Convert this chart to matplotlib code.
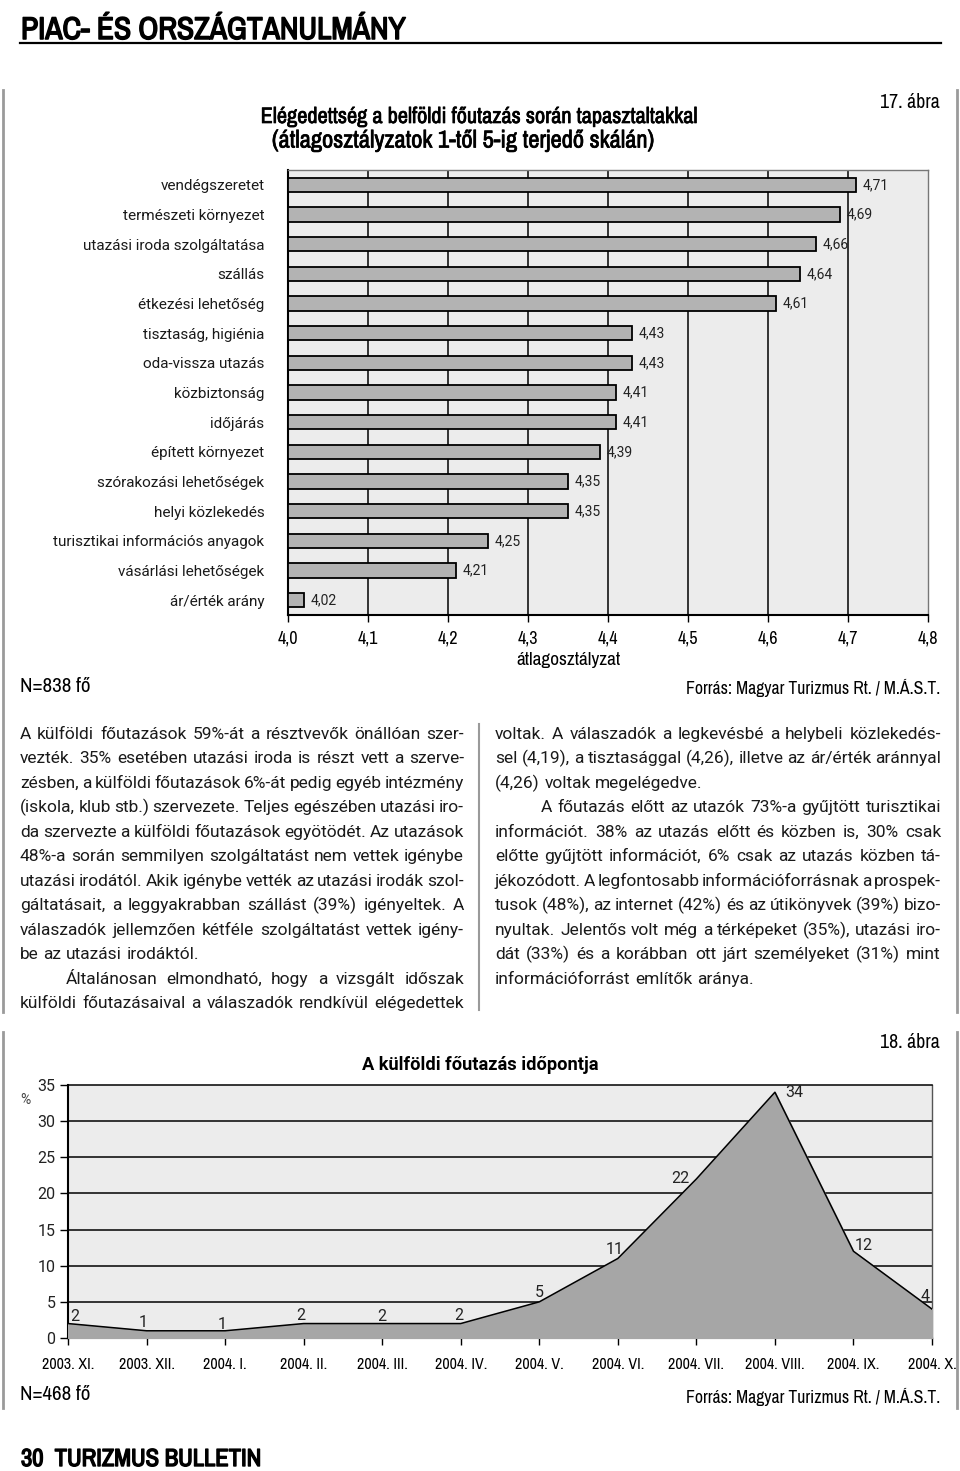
import matplotlib
matplotlib.use('Agg')
import matplotlib.pyplot as plt
import matplotlib.patheffects as pe
from matplotlib import font_manager

# --- data -------------------------------------------------------------
categories = ['vendégszeretet', 'természeti környezet', 'utazási iroda szolgáltatása',
              'szállás', 'étkezési lehetőség', 'tisztaság, higiénia', 'oda-vissza utazás',
              'közbiztonság', 'időjárás', 'épített környezet', 'szórakozási lehetőségek',
              'helyi közlekedés', 'turisztikai információs anyagok', 'vásárlási lehetőségek',
              'ár/érték arány']
scores = [4.71, 4.69, 4.66, 4.64, 4.61, 4.43, 4.43, 4.41, 4.41, 4.39, 4.35, 4.35, 4.25, 4.21, 4.02]
score_ticks = [4.0, 4.1, 4.2, 4.3, 4.4, 4.5, 4.6, 4.7, 4.8]

months = ['2003. XI.', '2003. XII.', '2004. I.', '2004. II.', '2004. III.', '2004. IV.',
          '2004. V.', '2004. VI.', '2004. VII.', '2004. VIII.', '2004. IX.', '2004. X.']
share = [2, 1, 1, 2, 2, 2, 5, 11, 22, 34, 12, 4]
share_ticks = [0, 5, 10, 15, 20, 25, 30, 35]

left_col = [
    ('A külföldi főutazások 59%-át a résztvevők önállóan szer-', 0, True),
    ('vezték. 35% esetében utazási iroda is részt vett a szerve-', 0, True),
    ('zésben, a külföldi főutazások 6%-át pedig egyéb intézmény', 0, True),
    ('(iskola, klub stb.) szervezete. Teljes egészében utazási iro-', 0, True),
    ('da szervezte a külföldi főutazások egyötödét. Az utazások', 0, True),
    ('48%-a során semmilyen szolgáltatást nem vettek igénybe', 0, True),
    ('utazási irodától. Akik igénybe vették az utazási irodák szol-', 0, True),
    ('gáltatásait, a leggyakrabban szállást (39%) igényeltek. A', 0, True),
    ('válaszadók jellemzően kétféle szolgáltatást vettek igény-', 0, True),
    ('be az utazási irodáktól.', 0, False),
    ('Általánosan elmondható, hogy a vizsgált időszak', 46, True),
    ('külföldi főutazásaival a válaszadók rendkívül elégedettek', 0, True),
]
right_col = [
    ('voltak. A válaszadók a legkevésbé a helybeli közlekedés-', 0, True),
    ('sel (4,19), a tisztasággal (4,26), illetve az ár/érték aránnyal', 0, True),
    ('(4,26) voltak megelégedve.', 0, False),
    ('A főutazás előtt az utazók 73%-a gyűjtött turisztikai', 46, True),
    ('információt. 38% az utazás előtt és közben is, 30% csak', 0, True),
    ('előtte gyűjtött információt, 6% csak az utazás közben tá-', 0, True),
    ('jékozódott. A legfontosabb információforrásnak a prospek-', 0, True),
    ('tusok (48%), az internet (42%) és az útikönyvek (39%) bizo-', 0, True),
    ('nyultak. Jelentős volt még a térképeket (35%), utazási iro-', 0, True),
    ('dát (33%) és a korábban ott járt személyeket (31%) mint', 0, True),
    ('információforrást említők aránya.', 0, False),
]

# label offsets (pixels) for the area chart values
label_offsets = [(7, 7), (-3, 8), (-3, 6), (-3, 8), (0, 7), (-2, 8),
                 (0, 9), (-3, 9), (-16, 0), (19, 0), (10, 6), (-7, 13)]

# --- fonts ------------------------------------------------------------
ttf = font_manager.fontManager.ttflist
narrow_name, narrow_stretch = None, 'normal'
for f in ttf:
    if 'Narrow' in f.name or 'Condensed' in f.name:
        narrow_name = f.name
        break
if narrow_name is None:
    for f in ttf:
        if str(f.stretch) in ('condensed', 'semi-condensed', 'extra-condensed'):
            narrow_name, narrow_stretch = f.name, f.stretch
            break
if narrow_name is None:
    narrow_name = 'Roboto'
NK = dict(family=[narrow_name, 'DejaVu Sans'], stretch=narrow_stretch)
BODY = ['Roboto', 'DejaVu Sans']


def heavy(lw):
    return [pe.withStroke(linewidth=lw, foreground='black')]


W, H = 960, 1471
fig = plt.figure(figsize=(W / 100, H / 100), dpi=100)
renderer = fig.canvas.get_renderer()


def rect(x0, y0, x1, y1):
    return [x0 / W, 1 - y1 / H, (x1 - x0) / W, (y1 - y0) / H]


def fit(t, width):
    # scale the font so the text is about `width` pixels wide
    w = t.get_window_extent(renderer).width
    t.set_fontsize(t.get_fontsize() * width / w)


page = fig.add_axes([0, 0, 1, 1])
page.set_xlim(0, W)
page.set_ylim(H, 0)
page.axis('off')
page.set_zorder(0)

# header / footer
t = page.text(21, 39, 'PIAC- ÉS ORSZÁGTANULMÁNY', fontsize=24, va='baseline',
              path_effects=heavy(1.1), **NK)
fit(t, 385)
page.plot([20, 941], [43, 43], color='black', lw=1.6)
t = page.text(21, 1466, '30  TURIZMUS BULLETIN', fontsize=22, va='baseline',
              path_effects=heavy(1.0), **NK)
fit(t, 240)

# frames
gray = '#9a9a9a'
page.plot([3, 3], [90, 1012], color=gray, lw=2)
page.plot([957, 957], [90, 1012], color=gray, lw=2)
page.plot([479, 479], [724, 1010], color=gray, lw=1.5)
page.plot([3, 3], [1032, 1408], color=gray, lw=2)
page.plot([957, 957], [1032, 1408], color=gray, lw=2)

# --- figure 17 --------------------------------------------------------
t = page.text(940, 102, '17. ábra', fontsize=12, ha='right', va='center', **NK)
fit(t, 60)
t = page.text(479, 117, 'Elégedettség a belföldi főutazás során tapasztaltakkal',
              fontsize=12.5, ha='center', va='center', path_effects=heavy(0.5), **NK)
fit(t, 440)
t = page.text(464, 141, '(átlagosztályzatok 1-től 5-ig terjedő skálán)',
              fontsize=12.5, ha='center', va='center', path_effects=heavy(0.5), **NK)
fit(t, 386)

ax = fig.add_axes(rect(288, 170, 928, 615))
ax.set_zorder(1)
ax.set_facecolor('#ececec')
ypos = list(range(len(categories)))
ax.barh(ypos, [v - score_ticks[0] for v in scores], left=score_ticks[0], height=0.48,
        color='#b3b3b3', edgecolor='black', linewidth=1.3, zorder=3)
for tk in score_ticks[1:-1]:
    ax.axvline(tk, color='black', lw=1.1, zorder=1)
for i, v in enumerate(scores):
    ax.annotate(f'{v:.2f}'.replace('.', ','), (v, i), xytext=(5, 0), textcoords='offset points',
                va='center', ha='left', fontsize=10, family=BODY, color='#222222')
ax.set_xlim(score_ticks[0], score_ticks[-1])
ax.set_ylim(len(categories) - 0.5, -0.5)
ax.set_xticks(score_ticks)
ax.set_xticklabels([f'{tk:.1f}'.replace('.', ',') for tk in score_ticks], fontsize=13, **NK)
ax.set_yticks(ypos)
ax.set_yticklabels(categories, family=BODY, fontsize=11, color='#1a1a1a')
ax.tick_params(axis='x', length=5, width=1, pad=6)
ax.tick_params(axis='y', length=0, pad=17)
for s in ['left', 'bottom']:
    ax.spines[s].set_linewidth(1.5)
for s in ['top', 'right']:
    ax.spines[s].set_color('#777777')
    ax.spines[s].set_linewidth(1)

t = page.text(568, 660, 'átlagosztályzat', fontsize=11.5, ha='center', va='center', **NK)
fit(t, 104)
t = page.text(20, 686, 'N=838 fő', fontsize=11.5, va='center', **NK)
fit(t, 70)
t = page.text(940, 688, 'Forrás: Magyar Turizmus Rt. / M.Á.S.T.', fontsize=11,
              ha='right', va='center', **NK)
fit(t, 255)

# --- body text (justified) ---------------------------------------------
BODY_SIZE = 12.5


def put_line(text, x0, x1, y, justify):
    words = text.split(' ')
    arts = [page.text(0, y, w, fontsize=BODY_SIZE, family=BODY, va='center', ha='left',
                      color='#1a1a1a') for w in words]
    widths = [a.get_window_extent(renderer).width for a in arts]
    if justify and len(words) > 1:
        gap = (x1 - x0 - sum(widths)) / (len(words) - 1)
    else:
        gap = BODY_SIZE * 100 / 72 * 0.27
    x = x0
    for a, w in zip(arts, widths):
        a.set_x(x)
        x += w + gap


for k, (line, indent, just) in enumerate(left_col):
    put_line(line, 20 + indent, 464, 734 + 24.5 * k, just)
for k, (line, indent, just) in enumerate(right_col):
    put_line(line, 495 + indent, 941, 734 + 24.5 * k, just)

# --- figure 18 --------------------------------------------------------
t = page.text(940, 1042, '18. ábra', fontsize=12, ha='right', va='center', **NK)
fit(t, 60)
t = page.text(480, 1065, 'A külföldi főutazás időpontja', fontsize=13, weight='bold',
              family=BODY, ha='center', va='center')
fit(t, 236)
page.text(25, 1100, '%', fontsize=10, family=BODY, ha='center', va='center', color='#444444')

ax2 = fig.add_axes(rect(68, 1085, 932, 1338))
ax2.set_zorder(1)
ax2.set_facecolor('#ececec')
xpos = list(range(len(months)))
for g in share_ticks[1:-1]:
    ax2.axhline(g, color='black', lw=1.1, zorder=1)
ax2.fill_between(xpos, share, color='#a6a6a6', zorder=3)
ax2.plot(xpos, share, color='black', lw=1.1, zorder=4)
for i, v in enumerate(share):
    dx, dy = label_offsets[i]
    ax2.annotate(str(v), (i, v), xytext=(dx * 0.72, dy * 0.72), textcoords='offset points',
                 ha='center', va='center', fontsize=11.5, family=BODY, color='#222222', zorder=5)
ax2.set_xlim(0, len(months) - 1)
ax2.set_ylim(share_ticks[0], share_ticks[-1])
ax2.set_yticks(share_ticks)
ax2.set_yticklabels([str(tk) for tk in share_ticks], family=BODY, fontsize=11.5, color='#222222')
ax2.set_xticks(xpos)
ax2.set_xticklabels(months, fontsize=11.5, **NK)
ax2.tick_params(axis='y', length=6, width=1, pad=3)
ax2.tick_params(axis='x', length=5, width=1, pad=9)
for s in ['left', 'bottom']:
    ax2.spines[s].set_linewidth(1.5)
ax2.spines['top'].set_linewidth(1.1)
ax2.spines['right'].set_color('#555555')
ax2.spines['right'].set_linewidth(1)

t = page.text(20, 1395, 'N=468 fő', fontsize=11.5, va='center', **NK)
fit(t, 70)
t = page.text(940, 1397, 'Forrás: Magyar Turizmus Rt. / M.Á.S.T.', fontsize=11,
              ha='right', va='center', **NK)
fit(t, 255)

fig.savefig('out.png', dpi=100)
